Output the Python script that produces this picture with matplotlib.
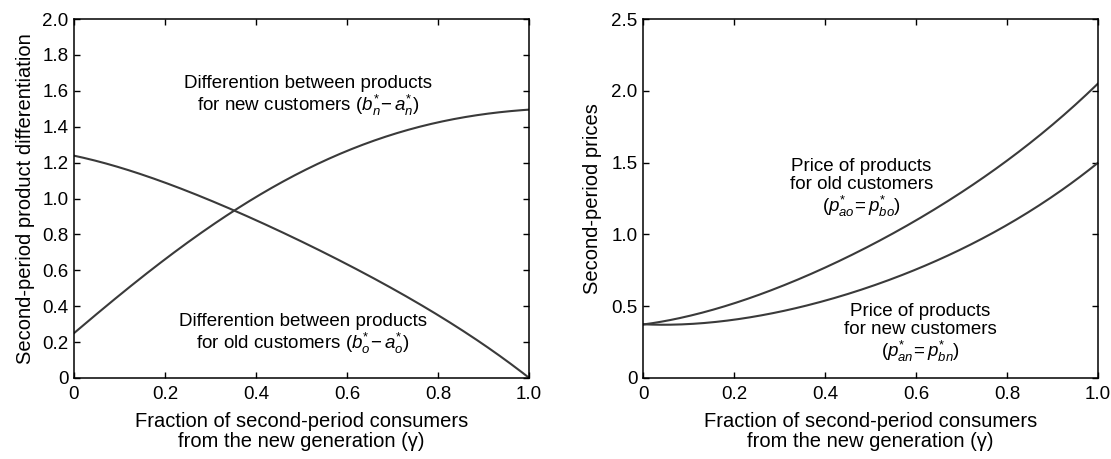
import matplotlib
matplotlib.use('Agg')
import matplotlib.pyplot as plt
import numpy as np
from numpy.polynomial import polynomial as P

plt.rcParams['font.family'] = ['Liberation Sans', 'DejaVu Sans']
plt.rcParams['mathtext.fontset'] = 'custom'
plt.rcParams['mathtext.rm'] = 'Liberation Sans'
plt.rcParams['mathtext.it'] = 'Liberation Sans:italic'

# gamma grid
gamma = [0.0, 0.1, 0.2, 0.3, 0.4, 0.5, 0.6, 0.7, 0.8, 0.9, 1.0]

# left panel: product differentiation
diff_new = [0.25, 0.46, 0.665, 0.84, 1.01, 1.15, 1.265, 1.355, 1.425, 1.47, 1.495]
diff_old = [1.24, 1.17, 1.09, 0.99, 0.88, 0.76, 0.635, 0.495, 0.35, 0.19, 0.0]

# right panel: prices
price_old = [0.375, 0.43, 0.51, 0.635, 0.79, 0.92, 1.08, 1.29, 1.53, 1.76, 2.05]
price_new = [0.375, 0.375, 0.40, 0.47, 0.54, 0.63, 0.755, 0.90, 1.07, 1.26, 1.50]

xticks = [0, 0.2, 0.4, 0.6, 0.8, 1.0]
xticklabels = ['0', '0.2', '0.4', '0.6', '0.8', '1.0']
yticks_l = [0, 0.2, 0.4, 0.6, 0.8, 1.0, 1.2, 1.4, 1.6, 1.8, 2.0]
yticklabels_l = ['0'] + ['%.1f' % v for v in yticks_l[1:]]
yticks_r = [0, 0.5, 1.0, 1.5, 2.0, 2.5]
yticklabels_r = ['0'] + ['%.1f' % v for v in yticks_r[1:]]

xlabel = 'Fraction of second-period consumers\nfrom the new generation (\u03b3)'
line_col = '#3a3a3a'

fig = plt.figure(figsize=(11.11, 4.59), dpi=100)
ax1 = fig.add_axes([0.0666, 0.1765, 0.4095, 0.782])
ax2 = fig.add_axes([0.5788, 0.1765, 0.4095, 0.782])


def smooth(x, y):
    xs = np.linspace(0, 1, 201)
    c = P.polyfit(x, y, 4)
    return xs, P.polyval(xs, c)


for ax in (ax1, ax2):
    ax.set_xlim(0, 1)
    ax.set_xticks(xticks)
    ax.set_xticklabels(xticklabels)
    ax.tick_params(direction='in', top=True, right=True, length=4, width=1,
                   labelsize=13.5)
    ax.tick_params(axis='x', pad=6)
    ax.tick_params(axis='y', pad=4)
    for s in ax.spines.values():
        s.set_linewidth(1.1)
    ax.set_xlabel(xlabel, fontsize=14.5, linespacing=1.1, labelpad=6)

xs, ys = smooth(gamma, diff_new)
ax1.plot(xs, ys, color=line_col, lw=1.5)
xs, ys = smooth(gamma, diff_old)
ax1.plot(xs, ys, color=line_col, lw=1.5)
ax1.set_ylim(0, 2.0)
ax1.set_yticks(yticks_l)
ax1.set_yticklabels(yticklabels_l)
ax1.set_ylabel('Second-period product differentiation', fontsize=14.5, labelpad=5)

ax1.text(0.515, 1.57, 'Differention between products\n'
         r'for new customers ($b^{*}_{n}\!-a^{*}_{n}$)',
         ha='center', va='center', fontsize=13.5, multialignment='center',
         linespacing=1.05)
ax1.text(0.503, 0.24, 'Differention between products\n'
         r'for old customers ($b^{*}_{o}\!-a^{*}_{o}$)',
         ha='center', va='center', fontsize=13.5, multialignment='center',
         linespacing=1.05)

xs, ys = smooth(gamma, price_old)
ax2.plot(xs, ys, color=line_col, lw=1.5)
xs, ys = smooth(gamma, price_new)
ax2.plot(xs, ys, color=line_col, lw=1.5)
ax2.set_ylim(0, 2.5)
ax2.set_yticks(yticks_r)
ax2.set_yticklabels(yticklabels_r)
ax2.set_ylabel('Second-period prices', fontsize=14.5, labelpad=7)

ax2.text(0.48, 1.32, 'Price of products\nfor old customers\n'
         r'($p^{*}_{ao}\!=p^{*}_{bo}$)',
         ha='center', va='center', fontsize=13.5, multialignment='center',
         linespacing=1.05)
ax2.text(0.61, 0.31, 'Price of products\nfor new customers\n'
         r'($p^{*}_{an}\!=p^{*}_{bn}$)',
         ha='center', va='center', fontsize=13.5, multialignment='center',
         linespacing=1.05)

fig.savefig('out.png', dpi=100)
